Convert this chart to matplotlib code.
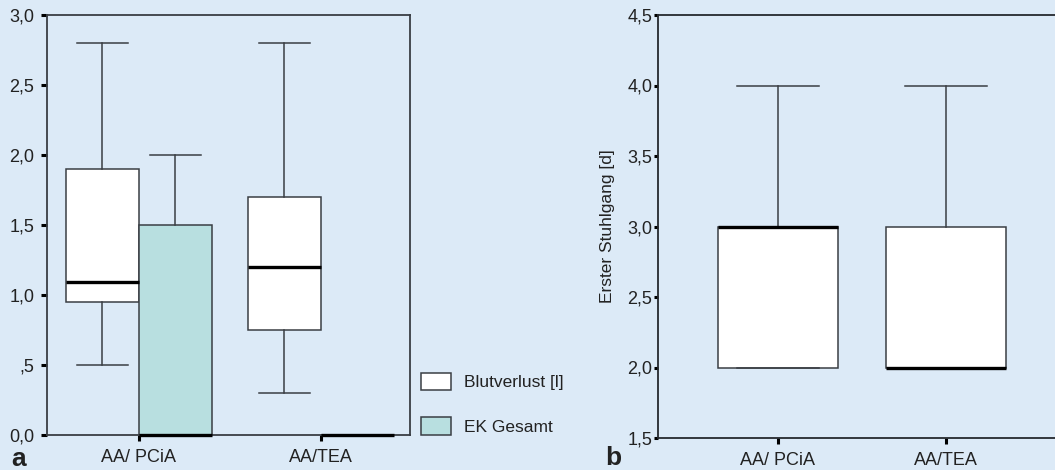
import matplotlib.pyplot as plt
from matplotlib.patches import Patch

plt.rcParams['font.family'] = ['Liberation Sans', 'DejaVu Sans']

# panel a: Blutverlust [l] und EK Gesamt, je Gruppe
groups = ['AA/ PCiA', 'AA/TEA']
blut_q1 = [0.95, 0.75]
blut_med = [1.09, 1.2]
blut_q3 = [1.9, 1.7]
blut_lo = [0.5, 0.3]
blut_hi = [2.8, 2.8]

ek_q1 = [0.0, 0.0]
ek_med = [0.0, 0.0]
ek_q3 = [1.5, 0.0]
ek_lo = [0.0, 0.0]
ek_hi = [2.0, 0.0]

a_ticks = [0.0, 0.5, 1.0, 1.5, 2.0, 2.5, 3.0]
a_ticklabels = ['0,0', ',5', '1,0', '1,5', '2,0', '2,5', '3,0']

# panel b: Erster Stuhlgang [d]
stuhl_q1 = [2.0, 2.0]
stuhl_med = [3.0, 2.0]
stuhl_q3 = [3.0, 3.0]
stuhl_lo = [2.0, 2.0]
stuhl_hi = [4.0, 4.0]

b_ticks = [1.5, 2.0, 2.5, 3.0, 3.5, 4.0, 4.5]
b_ticklabels = ['1,5', '2,0', '2,5', '3,0', '3,5', '4,0', '4,5']

bg = '#dceaf7'
teal = '#b8dfe0'
dark = '#3a3e44'
txt = '#222222'


def make_stats(q1, med, q3, lo, hi):
    out = []
    for i in range(len(q1)):
        out.append(dict(q1=q1[i], med=med[i], q3=q3[i], whislo=lo[i],
                        whishi=hi[i], fliers=[]))
    return out


def draw_boxes(ax, stats, pos, width, capw, face):
    ax.bxp(stats, positions=pos, widths=width, capwidths=capw,
           patch_artist=True, showfliers=False, manage_ticks=False,
           boxprops=dict(facecolor=face, edgecolor=dark, linewidth=1.1),
           whiskerprops=dict(color=dark, linewidth=1.1),
           capprops=dict(color=dark, linewidth=1.1),
           medianprops=dict(color='black', linewidth=2.4, solid_capstyle='butt',
                            zorder=3, clip_on=False))


fig = plt.figure(figsize=(10.55, 4.7), dpi=100)
fig.patch.set_facecolor(bg)
W, H = 1055, 470

# ---- panel a ----
ax1 = fig.add_axes([47 / W, (H - 435) / H, (410 - 47) / W, (435 - 15) / H])
ax1.set_facecolor(bg)
xs = range(len(groups))
draw_boxes(ax1, make_stats(blut_q1, blut_med, blut_q3, blut_lo, blut_hi),
           [x - 0.2 for x in xs], 0.4, 0.28, 'white')
draw_boxes(ax1, make_stats(ek_q1, ek_med, ek_q3, ek_lo, ek_hi),
           [x + 0.2 for x in xs], 0.4, 0.28, teal)
ax1.set_xlim(-0.505, 1.49)
ax1.set_ylim(0, 3.0)
ax1.set_yticks(a_ticks)
ax1.set_yticklabels(a_ticklabels)
ax1.set_xticks(list(xs))
ax1.set_xticklabels(groups)
for s in ax1.spines.values():
    s.set_color(dark)
    s.set_linewidth(1.3)
ax1.tick_params(axis='y', length=4, width=2.2, color='black', pad=5,
                labelsize=13, labelcolor=txt)
ax1.tick_params(axis='x', length=4, width=2.2, color='black', pad=6,
                labelsize=13, labelcolor=txt)

handles = [Patch(facecolor='white', edgecolor=dark, linewidth=1.1, label='Blutverlust [l]'),
           Patch(facecolor=teal, edgecolor=dark, linewidth=1.1, label='EK Gesamt')]
fig.legend(handles=handles, loc='upper left', bbox_to_anchor=(421 / W, (H - 373) / H),
           frameon=False, fontsize=12.5, handlelength=1.75, handleheight=1.15,
           handletextpad=0.75, labelspacing=1.55, borderpad=0, borderaxespad=0,
           labelcolor=txt)

fig.text(11 / W, (H - 459) / H, 'a', fontsize=19, fontweight='bold',
         color=txt, va='center', ha='left')

# ---- panel b ----
ax2 = fig.add_axes([658 / W, (H - 438) / H, (1055 - 658) / W, (438 - 15) / H])
ax2.set_facecolor(bg)
draw_boxes(ax2, make_stats(stuhl_q1, stuhl_med, stuhl_q3, stuhl_lo, stuhl_hi),
           list(xs), 0.714, 0.49, 'white')
ax2.set_xlim(-0.714, 1.649)
ax2.set_ylim(1.5, 4.5)
ax2.set_yticks(b_ticks)
ax2.set_yticklabels(b_ticklabels)
ax2.set_xticks(list(xs))
ax2.set_xticklabels(groups)
ax2.spines['right'].set_visible(False)
for s in ['left', 'bottom', 'top']:
    ax2.spines[s].set_color('#25292e')
    ax2.spines[s].set_linewidth(1.3)
ax2.tick_params(axis='y', length=3, width=2.2, color='black', pad=1,
                labelsize=13, labelcolor=txt)
ax2.tick_params(axis='x', length=4, width=2.2, color='black', pad=6,
                labelsize=13, labelcolor=txt)
ax2.set_ylabel('Erster Stuhlgang [d]', fontsize=12.5, color=txt, labelpad=9)

fig.text(605 / W, (H - 458) / H, 'b', fontsize=19, fontweight='bold',
         color=txt, va='center', ha='left')

fig.savefig('out.png', dpi=100, facecolor=bg)
